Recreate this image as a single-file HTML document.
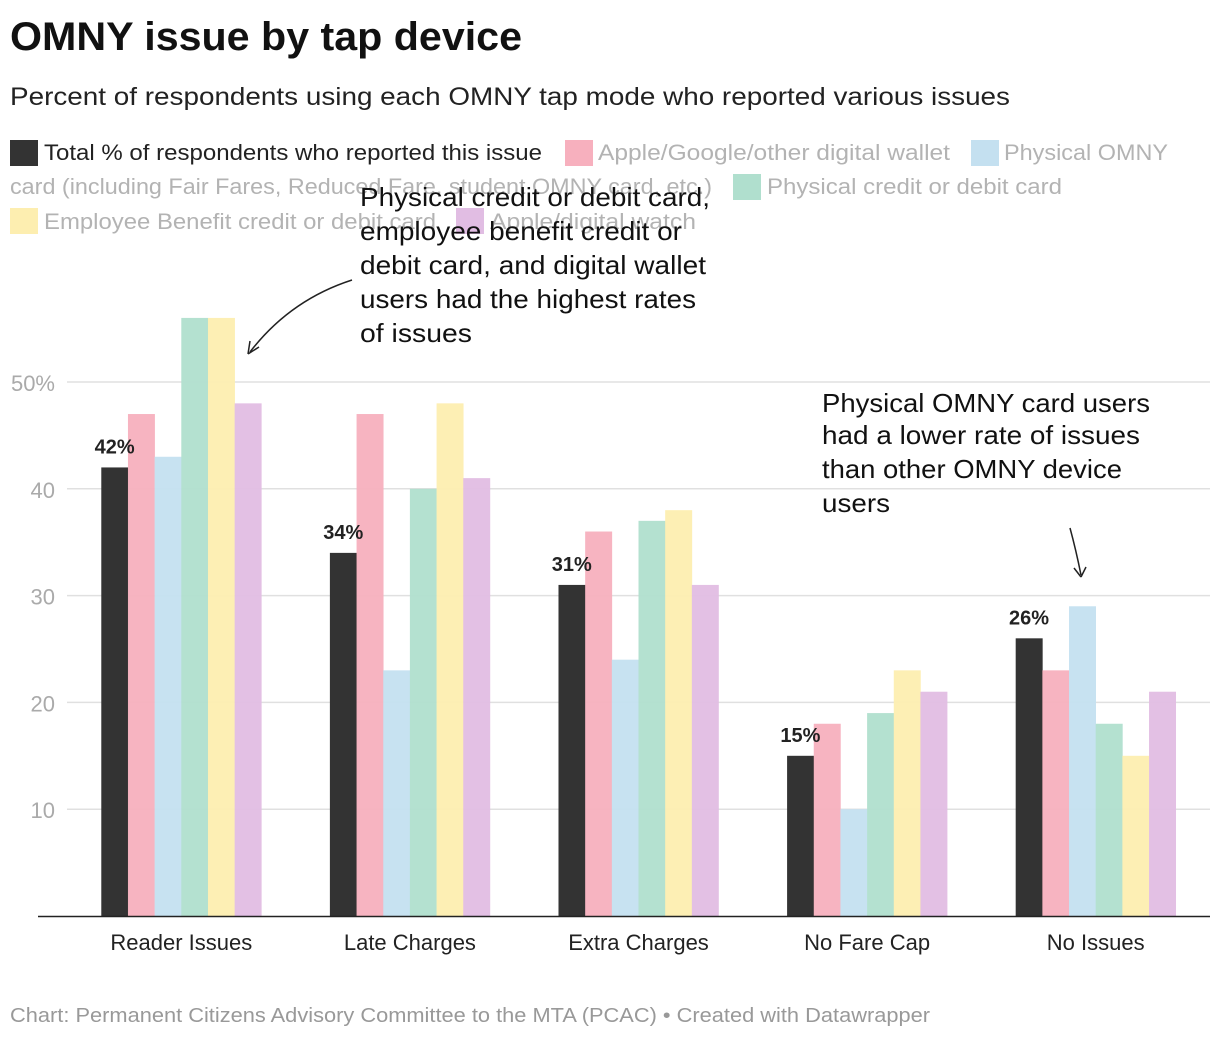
<!DOCTYPE html>
<html><head><meta charset="utf-8"><style>
html,body{margin:0;padding:0;background:#fff;}
svg{display:block;font-family:"Liberation Sans",Arial,sans-serif;}
</style></head><body>
<svg id="chart" width="1220" height="1038" viewBox="0 0 1220 1038">
<text x="10" y="50" font-size="40" font-weight="bold" fill="#111" textLength="512" lengthAdjust="spacingAndGlyphs">OMNY issue by tap device</text>
<text x="10" y="105" font-size="25" fill="#222" textLength="1000" lengthAdjust="spacingAndGlyphs">Percent of respondents using each OMNY tap mode who reported various issues</text>
<g font-size="22">
 <g><rect x="10" y="140" width="28" height="26" fill="#333"/><text x="44" y="160" fill="#222" textLength="498" lengthAdjust="spacingAndGlyphs">Total % of respondents who reported this issue</text></g>
 <g><rect x="565" y="140" width="28" height="26" fill="#f7b0be"/><text x="598" y="160" fill="#b3b3b3" textLength="352" lengthAdjust="spacingAndGlyphs">Apple/Google/other digital wallet</text></g>
 <g><rect x="971" y="140" width="28" height="26" fill="#c4e0f0"/><text x="1004" y="160" fill="#b3b3b3" textLength="164" lengthAdjust="spacingAndGlyphs">Physical OMNY</text><text x="10" y="194" fill="#b3b3b3" textLength="702" lengthAdjust="spacingAndGlyphs">card (including Fair Fares, Reduced Fare, student OMNY card, etc.)</text></g>
 <g><rect x="733" y="174" width="28" height="26" fill="#b0dfce"/><text x="767" y="194" fill="#b3b3b3" textLength="295" lengthAdjust="spacingAndGlyphs">Physical credit or debit card</text></g>
 <g><rect x="10" y="208" width="28" height="26" fill="#fdeeb0"/><text x="44" y="229" fill="#b3b3b3" textLength="392" lengthAdjust="spacingAndGlyphs">Employee Benefit credit or debit card</text></g>
 <g><rect x="456" y="208" width="28" height="26" fill="#e1bde3"/><text x="490" y="229" fill="#b3b3b3" textLength="206" lengthAdjust="spacingAndGlyphs">Apple/digital watch</text></g>
</g>
<g id="grid"></g>
<g id="bars"></g>
<g id="labels"></g>
<line x1="38" y1="916.5" x2="1210" y2="916.5" stroke="#222" stroke-width="1.5"/>
<g font-size="26" fill="#111">
 <text x="360" y="206" textLength="350" lengthAdjust="spacingAndGlyphs">Physical credit or debit card,</text>
 <text x="360" y="240" textLength="322" lengthAdjust="spacingAndGlyphs">employee benefit credit or</text>
 <text x="360" y="274" textLength="346" lengthAdjust="spacingAndGlyphs">debit card, and digital wallet</text>
 <text x="360" y="308" textLength="336" lengthAdjust="spacingAndGlyphs">users had the highest rates</text>
 <text x="360" y="342" textLength="112" lengthAdjust="spacingAndGlyphs">of issues</text>
 <path d="M352,280 Q290,300 250,352" fill="none" stroke="#222" stroke-width="1.5"/>
 <path d="M248,354 l2,-13 M248,354 l11,-7" stroke="#222" stroke-width="1.5" fill="none"/>
</g>
<g font-size="26" fill="#111">
 <text x="822" y="412" textLength="328" lengthAdjust="spacingAndGlyphs">Physical OMNY card users</text>
 <text x="822" y="444" textLength="318" lengthAdjust="spacingAndGlyphs">had a lower rate of issues</text>
 <text x="822" y="478" textLength="300" lengthAdjust="spacingAndGlyphs">than other OMNY device</text>
 <text x="822" y="512" textLength="68" lengthAdjust="spacingAndGlyphs">users</text>
 <path d="M1070,528 Q1076,550 1081,575" fill="none" stroke="#222" stroke-width="1.5"/>
 <path d="M1081,577 l-7,-9 M1081,577 l5,-10" stroke="#222" stroke-width="1.5" fill="none"/>
</g>
<text x="10" y="1022" font-size="20" fill="#999" textLength="920" lengthAdjust="spacingAndGlyphs">Chart: Permanent Citizens Advisory Committee to the MTA (PCAC) • Created with Datawrapper</text>
</svg>
<script>
const categories = ["Reader Issues","Late Charges","Extra Charges","No Fare Cap","No Issues"];
const seriesNames = ["total","digital-wallet","omny-card","credit-card","employee-card","watch"];
const totalValues = [42,34,31,15,26];
const walletValues = [47,47,36,18,23];
const omnyCardValues = [43,23,24,10,29];
const creditCardValues = [56,40,37,19,18];
const employeeValues = [56,48,38,23,15];
const watchValues = [48,41,31,21,21];
const yTicks = [10,20,30,40,50];
const yTickLabels = ["10","20","30","40","50%"];

const colors = ["#333333","#f7b0be","#c4e0f0","#b0dfce","#fdeeb0","#e1bde3"];
const series = [totalValues,walletValues,omnyCardValues,creditCardValues,employeeValues,watchValues];
const NS = "http://www.w3.org/2000/svg";
const plotL = 67, plotR = 1210, y0 = 916, pxPer = 10.68;
const band = (plotR - plotL) / categories.length;
const y = v => y0 - v * pxPer;
const groupW = band * 0.7, barW = groupW / series.length;
const xBar = (ci, si) => plotL + ci * band + (band - groupW) / 2 + si * barW;
const xCenter = ci => plotL + ci * band + band / 2;
function mk(tag, attrs, parent){ const e = document.createElementNS(NS, tag); for (const k in attrs) e.setAttribute(k, attrs[k]); parent.appendChild(e); return e; }

const grid = document.getElementById("grid");
yTicks.forEach((t, i) => {
  const l = mk("line", {x1: plotL, x2: plotR, y1: y(t), y2: y(t), stroke: "#e0e0e0", "stroke-width": 1.5}, grid);
  
  
  const tx = mk("text", {x: 55, y: y(t) + 9, "text-anchor": "end", "font-size": 22, fill: "#aaa"}, grid);
  tx.textContent = yTickLabels[i];
  
  
});

const bars = document.getElementById("bars");
series.forEach((vals, si) => {
  vals.forEach((v, ci) => {
    const r = mk("rect", {x: xBar(ci, si), y: y(v), width: barW + 0.3, height: v * pxPer, fill: colors[si], opacity: si === 0 ? 1 : 0.95}, bars);
    
    
  });
});

const labels = document.getElementById("labels");
categories.forEach((c, ci) => {
  const t = mk("text", {x: xCenter(ci), y: 950, "text-anchor": "middle", "font-size": 22, fill: "#222"}, labels);
  t.textContent = c;
  
  
  const v = mk("text", {x: xBar(ci, 0) + barW / 2, y: y(totalValues[ci]) - 14, "text-anchor": "middle", "font-size": 20, "font-weight": "bold", fill: "#222"}, labels);
  v.textContent = totalValues[ci] + "%";
  
  
});
</script>
</body></html>
